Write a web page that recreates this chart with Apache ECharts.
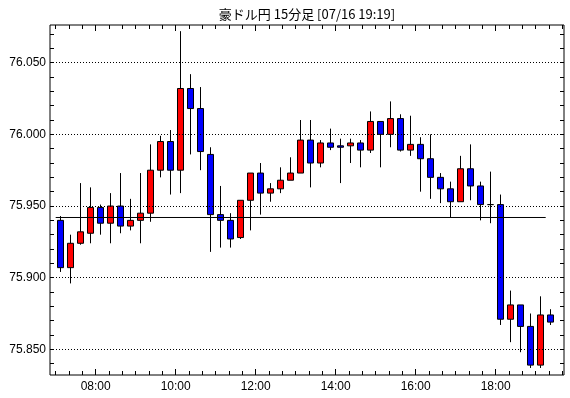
<!DOCTYPE html>
<html><head><meta charset="utf-8">
<script src="https://cdn.jsdelivr.net/npm/echarts@6/dist/echarts.min.js"></script>
<style>html,body{margin:0;padding:0;background:#fff}#c{width:570px;height:398px}</style>
</head><body><div id="c"></div>
<script>
const chartTitle = '豪ドル円 15分足 [07/16 19:19]';
const times = ['07:00','07:15','07:30','07:45','08:00','08:15','08:30','08:45','09:00','09:15',
  '09:30','09:45','10:00','10:15','10:30','10:45','11:00','11:15','11:30','11:45',
  '12:00','12:15','12:30','12:45','13:00','13:15','13:30','13:45','14:00','14:15',
  '14:30','14:45','15:00','15:15','15:30','15:45','16:00','16:15','16:30','16:45',
  '17:00','17:15','17:30','17:45','18:00','18:15','18:30','18:45','19:00','19:15'];
const opens = [75.940,75.907,75.924,75.931,75.949,75.938,75.950,75.936,75.940,75.945,
  75.975,75.995,75.975,76.032,76.018,75.986,75.944,75.940,75.928,75.954,
  75.973,75.959,75.962,75.968,75.973,75.996,75.980,75.994,75.992,75.992,
  75.994,75.989,76.009,76.000,76.011,75.989,75.993,75.983,75.970,75.962,
  75.953,75.976,75.964,75.951,75.951,75.871,75.881,75.866,75.839,75.874];
const closes = [75.907,75.924,75.932,75.949,75.938,75.950,75.936,75.940,75.945,75.975,
  75.995,75.975,76.032,76.018,75.988,75.944,75.940,75.927,75.954,75.973,
  75.959,75.962,75.968,75.973,75.996,75.980,75.994,75.991,75.991,75.994,
  75.989,76.009,76.000,76.011,75.989,75.993,75.983,75.970,75.962,75.953,
  75.976,75.964,75.951,75.951,75.871,75.881,75.866,75.839,75.874,75.869];
const lows = [75.904,75.896,75.923,75.924,75.930,75.924,75.931,75.933,75.924,75.939,
  75.970,75.958,75.959,75.986,75.975,75.918,75.921,75.921,75.927,75.933,
  75.944,75.953,75.959,75.968,75.973,75.963,75.977,75.989,75.966,75.980,
  75.977,75.987,75.977,75.991,75.988,75.985,75.960,75.955,75.952,75.942,
  75.953,75.954,75.940,75.938,75.867,75.855,75.848,75.837,75.837,75.867];
const highs = [75.943,75.930,75.966,75.963,75.951,75.959,75.973,75.955,75.973,75.993,
  75.999,76.003,76.072,76.042,76.033,75.991,75.964,75.945,75.954,75.973,
  75.980,75.966,75.977,75.984,76.010,76.010,75.996,76.004,75.997,75.997,
  75.996,76.016,76.009,76.023,76.014,76.013,75.998,76.000,75.973,75.967,
  75.985,75.993,75.967,75.974,75.958,75.891,75.881,75.875,75.887,75.878];
const baseLevel = 75.942;
const baseFrom = '07:00', baseTo = '19:15';
const yLabelValues = [75.85, 75.90, 75.95, 76.00, 76.05];
const xLabelTimes = ['08:00','10:00','12:00','14:00','16:00','18:00'];

const toMin = s => (+s.slice(0,2))*60 + (+s.slice(3));
const pad = n => (n < 10 ? '0' : '') + n;
const fmtTime = v => pad(Math.floor(v/60)) + ':' + pad(Math.round(v%60));

const X_MIN = 411.45, X_MAX = 1182.45;
const Y_MIN = 75.8321, Y_MAX = 76.0763;

const yTickValues = [];
for (let k = 7584; k <= 7607; k++) yTickValues.push(k/100);
const xMinorTicks = [];
for (let m = 420; m <= 1180; m += 20) xMinorTicks.push(m);
const xMajorTicks = xLabelTimes.map(toMin);

const candleData = times.map((t,i) => [toMin(t) + 7.5, opens[i], closes[i], lows[i], highs[i]]);

const FONT = "'Liberation Sans Narrow','Liberation Sans',Arial,sans-serif";
const chart = echarts.init(document.getElementById('c'), null, {renderer:'canvas'});

function xAxisDef(pos, ticks, len, labels) {
  return {
    type:'value', min:X_MIN, max:X_MAX, position:pos, gridIndex:0,
    axisLine:{show:false},
    axisTick:{show:true, inside:true, length:len, customValues:ticks, lineStyle:{color:'#000', width:1}},
    axisLabel: labels ? {show:true, customValues:xMajorTicks, formatter:v=>fmtTime(v), color:'#000',
      fontSize:12, fontFamily:FONT, margin:6} : {show:false},
    splitLine:{show:false}
  };
}
function yAxisDef(pos, labels) {
  return {
    type:'value', min:Y_MIN, max:Y_MAX, position:pos, gridIndex:0,
    axisLine:{show:false},
    axisTick:{show:true, inside:true, length:4, customValues:yTickValues, lineStyle:{color:'#000', width:1}},
    axisLabel: labels ? {show:true, customValues:yLabelValues, formatter:v=>v.toFixed(3), color:'#000',
      fontSize:12, fontFamily:FONT, margin:4} : {show:false},
    splitLine:{show:false}
  };
}

chart.setOption({
  animation:false,
  backgroundColor:'#fff',
  grid:{left:50, right:6, top:25, bottom:23, show:true, borderColor:'#000', borderWidth:1, backgroundColor:'#fff'},
  graphic:[{type:'text', x:307, y:14, silent:true,
    style:{text:chartTitle, textAlign:'center', textVerticalAlign:'middle', fill:'#000',
      fontSize:13, fontFamily:"'Noto Sans CJK JP',sans-serif"}}],
  xAxis:[
    xAxisDef('bottom', xMinorTicks, 4, true),
    xAxisDef('bottom', xMajorTicks, 6, false),
    xAxisDef('top', xMinorTicks, 4, false),
    xAxisDef('top', xMajorTicks, 6, false)
  ],
  yAxis:[ yAxisDef('left', true), yAxisDef('right', false) ],
  series:[
    {
      type:'candlestick', xAxisIndex:0, yAxisIndex:0,
      data:candleData, encode:{x:0, y:[1,2,3,4]},
      barWidth:6,
      itemStyle:{color:'#ff0000', color0:'#0000ff', borderColor:'#000', borderColor0:'#000',
        borderColorDoji:'#000', borderWidth:1},
      emphasis:{disabled:true},
      markLine:{silent:true, symbol:['none','none'], label:{show:false},
        lineStyle:{color:'#000', width:1, type:[1,2]},
        emphasis:{disabled:true},
        data: yLabelValues.map(v => ({yAxis:v}))}
    },
    {
      type:'line', xAxisIndex:0, yAxisIndex:0, silent:true,
      data:[[toMin(baseFrom), baseLevel], [toMin(baseTo), baseLevel]],
      symbol:'none', lineStyle:{color:'#000', width:1}
    }
  ]
});
</script></body></html>
